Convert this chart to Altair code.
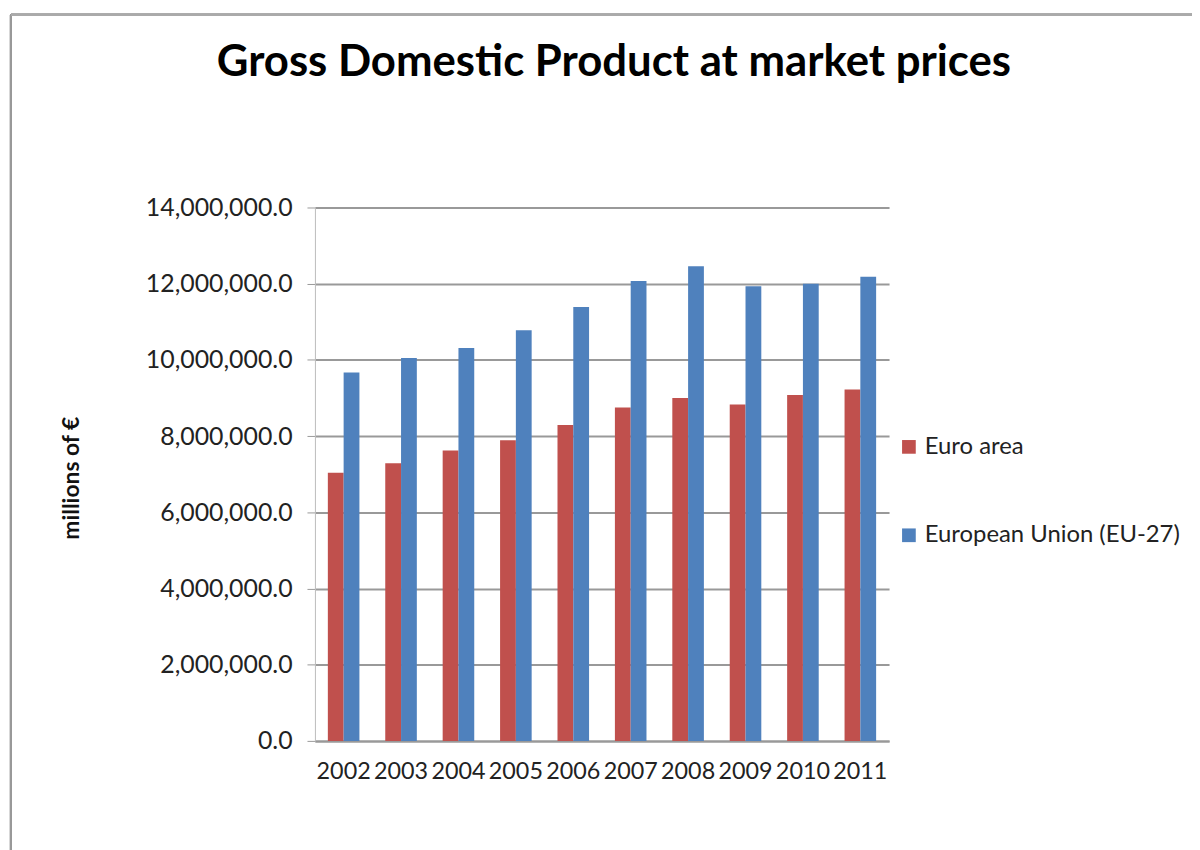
import altair as alt
import pandas as pd

years = ["2002", "2003", "2004", "2005", "2006", "2007", "2008", "2009", "2010", "2011"]
euro_area = [7040000, 7290000, 7620000, 7890000, 8290000, 8750000, 9000000, 8830000, 9080000, 9220000]
eu27 = [9670000, 10050000, 10310000, 10780000, 11390000, 12070000, 12460000, 11930000, 12000000, 12180000]
series = ["Euro area", "European Union (EU-27)"]
colors = ["#C0504D", "#4F81BD"]
y_ticks = [0, 2000000, 4000000, 6000000, 8000000, 10000000, 12000000, 14000000]

rows = []
for i, yr in enumerate(years):
    rows.append({"year": yr, "series": series[0], "value": euro_area[i]})
    rows.append({"year": yr, "series": series[1], "value": eu27[i]})
df = pd.DataFrame(rows)

FONT = "Lato"

bars = alt.Chart(df).mark_bar().encode(
    x=alt.X("year:N", sort=years,
            scale=alt.Scale(paddingInner=0.45, paddingOuter=0.225),
            axis=alt.Axis(title=None, labelAngle=0, labelFontSize=23.5, labelColor="#222222",
                          labelFont=FONT, ticks=False, labelPadding=19,
                          domainColor="#999999", domainWidth=2)),
    xOffset=alt.XOffset("series:N", sort=series),
    y=alt.Y("value:Q",
            scale=alt.Scale(domain=[0, 14000000], nice=False),
            axis=alt.Axis(title="millions of €", values=y_ticks, format=",.1f",
                          labelFontSize=25, labelColor="#222222", labelFont=FONT,
                          tickSize=8, tickColor="#999999", labelPadding=15,
                          domainColor="#bbbbbb", domainWidth=1,
                          gridColor="#999999", gridWidth=2,
                          titleFont=FONT, titleFontSize=23, titleFontWeight="bold",
                          titleColor="#111111", titleAngle=-90, titleX=-245,
                          titleY=272, titleAlign="center", titleBaseline="middle")),
    color=alt.Color("series:N", sort=series,
                    scale=alt.Scale(domain=series, range=colors),
                    legend=alt.Legend(title=None, orient="none", legendX=586, legendY=229,
                                      symbolType="square", symbolSize=190,
                                      symbolStrokeWidth=0, labelFont=FONT,
                                      labelFontSize=24, labelColor="#222222",
                                      labelLimit=400, rowPadding=65, labelOffset=4)),
)

frame_left = alt.Chart(df).mark_rule(color="#999999", strokeWidth=2).encode(
    x=alt.value(-306), y=alt.value(-194), y2=alt.value(650)
)
frame_top = alt.Chart(df).mark_rule(color="#aaaaaa", strokeWidth=2).encode(
    x=alt.value(-306), x2=alt.value(900), y=alt.value(-194)
)

chart = alt.layer(bars, frame_left, frame_top).properties(
    width=578,
    height=537,
    title=alt.TitleParams("Gross Domestic Product at market prices", font=FONT,
                          fontSize=44, fontWeight="bold", color="#000000",
                          anchor="middle", offset=0, baseline="alphabetic", dx=12, dy=107),
    autosize=alt.AutoSizeParams(type="none"),
    padding={"left": 309, "top": 198, "right": 305, "bottom": 107},
).configure_view(stroke=None)

chart.save("out.html", embed_options={"renderer": "svg", "actions": False})
